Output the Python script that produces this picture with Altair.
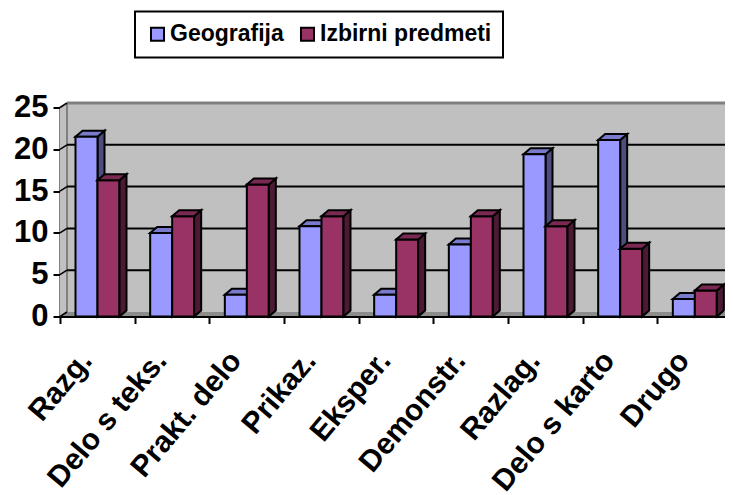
import altair as alt
import pandas as pd

categories = ["Razg.", "Delo s teks.", "Prakt. delo", "Prikaz.", "Eksper.",
              "Demonstr.", "Razlag.", "Delo s karto", "Drugo"]
geografija = [21.5, 10, 2.6, 10.8, 2.6, 8.6, 19.4, 21.1, 2.1]
izbirni = [16.3, 12, 15.8, 12, 9.2, 12, 10.8, 8.1, 3.1]
y_ticks = [0, 5, 10, 15, 20, 25]
series_names = ["Geografija", "Izbirni predmeti"]

FONT = "Liberation Sans"
W, H = 672, 209
XMAX, YMAX = 9, 25
PX = XMAX / W
PY = YMAX / H
BAR = 22 * PX
START = 15.5 * PX
DX, DY = 7 * PX, 6 * PY          # bar depth
WX, WY = 7 * PX, 4.5 * PY        # wall depth

fronts, sides, tops = [], [], []
for s, vals in enumerate([geografija, izbirni]):
    for i, v in enumerate(vals):
        x0 = i + START + s * BAR
        x1 = x0 + BAR
        fronts.append(dict(series=series_names[s], x=x0, x2=x1, y=0, y2=v))
        pid = f"{s}-{i}"
        sides += [dict(s=s, id=pid, x=x1, y=0, y2=v),
                  dict(s=s, id=pid, x=x1 + DX, y=DY, y2=v + DY)]
        tops += [dict(s=s, id=pid, x=x0, y=v, y2=v),
                 dict(s=s, id=pid, x=x0 + DX, y=v, y2=v + DY),
                 dict(s=s, id=pid, x=x1, y=v, y2=v + DY),
                 dict(s=s, id=pid, x=x1 + DX, y=v + DY, y2=v + DY)]
fronts = pd.DataFrame(fronts)
sides = pd.DataFrame(sides)
tops = pd.DataFrame(tops)

Xp = alt.X("x:Q", scale=alt.Scale(domain=[0, XMAX], nice=False, zero=False),
           axis=alt.Axis(values=list(range(XMAX + 1)), labels=False, title=None, grid=False,
                         tickSize=7, tickWidth=2, tickColor="black",
                         domainColor="black", domainWidth=2, zindex=1))
Yp = alt.Y("y:Q", scale=alt.Scale(domain=[0, YMAX], nice=False),
           axis=alt.Axis(values=y_ticks, title=None, grid=False, tickSize=7, tickWidth=2,
                         tickColor="black", domainColor="black", domainWidth=2,
                         labelFont=FONT, labelFontWeight="bold", labelFontSize=31,
                         labelColor="black", labelPadding=5, labelFlush=False))


def poly(df, **mark):
    return alt.Chart(df).mark_area(clip=False, **mark).encode(
        x=Xp, y=Yp, y2="y2:Q", detail="id:N")


wall = pd.DataFrame([dict(id="w", x=WX, y=WY, y2=YMAX + WY), dict(id="w", x=XMAX, y=WY, y2=YMAX + WY)])
left = pd.DataFrame([dict(id="l", x=0, y=0, y2=YMAX), dict(id="l", x=WX, y=WY, y2=YMAX + WY)])
floor = pd.DataFrame([dict(id="f", x=0, y=0, y2=0), dict(id="f", x=WX, y=0, y2=WY),
                      dict(id="f", x=XMAX, y=0, y2=WY)])

grid_df = pd.DataFrame([dict(x=WX, x2=XMAX, y=t + WY) for t in y_ticks[1:-1]])
grid = alt.Chart(grid_df).mark_rule(color="black", strokeWidth=2).encode(x=Xp, x2="x2:Q", y=Yp)
top_df = pd.DataFrame([dict(x=WX, x2=XMAX, y=YMAX + WY)])
wall_top = alt.Chart(top_df).mark_rule(color="#808080", strokeWidth=3).encode(x=Xp, x2="x2:Q", y=Yp)
wall_left_df = pd.DataFrame([dict(x=WX, y=WY, y2=YMAX + WY)])
wall_left = alt.Chart(wall_left_df).mark_rule(color="#808080", strokeWidth=2).encode(x=Xp, y=Yp, y2="y2:Q")

diag_df = pd.DataFrame([dict(id=t, x=a, y=t + b) for t in y_ticks for a, b in ((0, 0), (WX, WY))])
diag = alt.Chart(diag_df).mark_line(color="black", strokeWidth=1.5).encode(x=Xp, y=Yp, detail="id:N")

front = alt.Chart(fronts).mark_rect(stroke="black", strokeWidth=2).encode(
    x=Xp, x2="x2:Q", y=Yp, y2="y2:Q",
    color=alt.Color("series:N",
                    scale=alt.Scale(domain=series_names, range=["#9999ff", "#993366"]),
                    sort=series_names,
                    legend=alt.Legend(title=None, orient="none", legendX=75, legendY=-96,
                                      direction="horizontal", columns=2, symbolType="square",
                                      symbolSize=170, symbolStrokeColor="black", symbolStrokeWidth=2,
                                      labelFont=FONT, labelFontWeight="bold", labelFontSize=23,
                                      labelColor="black", labelLimit=300, columnPadding=12,
                                      fillColor="white", strokeColor="black", padding=11,
                                      labelOffset=1)))

labels_df = pd.DataFrame(dict(x=[i + 0.5 for i in range(len(categories))], y=[0] * len(categories),
                              label=categories))
labels = alt.Chart(labels_df).mark_text(
    angle=310, align="right", baseline="middle", font=FONT, fontWeight="bold", fontSize=30,
    color="black", dx=-37, dy=17).encode(x=Xp, y=Yp, text="label:N")


def faces(df, s, fill):
    return poly(df[df.s == s], fill=fill, stroke="black", strokeWidth=2)


chart = alt.layer(
    poly(left, fill="#c0c0c0"),
    poly(wall, fill="#c0c0c0"),
    poly(floor, fill="#8c8c8c"),
    wall_top, wall_left, grid, diag,
    faces(sides, 0, "#4d4d80"), faces(tops, 0, "#7a7acc"),
    front,
    faces(sides, 1, "#4d1a33"), faces(tops, 1, "#7a2952"),
    labels,
).properties(
    width=W, height=H,
    padding=dict(left=52, top=99.5, right=-7, bottom=178),
    autosize=alt.AutoSizeParams(type="none"),
    background="white",
).configure_view(stroke=None).configure_legend(strokeWidth=2)

chart.save("out.html", embed_options={"renderer": "svg", "actions": False})
